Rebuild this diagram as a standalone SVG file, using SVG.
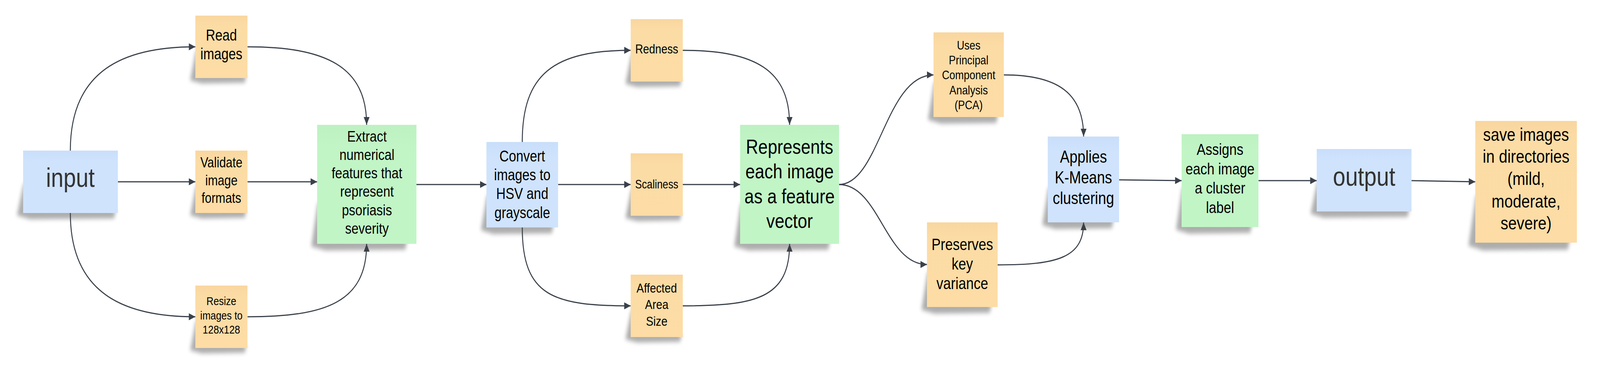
<svg xmlns="http://www.w3.org/2000/svg" width="4914" height="951" viewBox="0 0 4914 951" preserveAspectRatio="none" style="width:100vw;height:100vh;display:block">
<defs>
<style>
.orange{fill:url(#gO)}
.green{fill:url(#gG)}
.blue{fill:url(#gB)}
.sh{fill:#3c3c3c;opacity:.42;filter:url(#blur)}
.t{font-family:"Liberation Sans",Arial,sans-serif;fill:#000;text-anchor:middle}
.io{fill:#333}
.conn path{fill:none;stroke:#3a414a;stroke-width:3;marker-end:url(#arr)}
</style>
<linearGradient id="gO" x1="0" y1="0" x2="0" y2="1"><stop offset="0" stop-color="#f9d69f"/><stop offset=".18" stop-color="#fcdca5"/><stop offset="1" stop-color="#fddca5"/></linearGradient>
<linearGradient id="gG" x1="0" y1="0" x2="0" y2="1"><stop offset="0" stop-color="#bdf1c2"/><stop offset=".18" stop-color="#c1f5c6"/><stop offset="1" stop-color="#c1f5c6"/></linearGradient>
<linearGradient id="gB" x1="0" y1="0" x2="0" y2="1"><stop offset="0" stop-color="#c9defa"/><stop offset=".18" stop-color="#cfe3fd"/><stop offset="1" stop-color="#cfe3fd"/></linearGradient>
<filter id="blur" x="-30%" y="-30%" width="160%" height="160%"><feGaussianBlur stdDeviation="6"/></filter>
<marker id="arr" markerUnits="userSpaceOnUse" markerWidth="20" markerHeight="20" viewBox="0 0 20 20" refX="20" refY="10" orient="auto"><path d="M0 1 L20 10 L0 19 Z" fill="#3a414a"/></marker>
</defs>
<rect width="4914" height="951" fill="#fff"/>

<g class="conn" id="connectors">
<path d="M216 386 C216 180 380 120 600 120"/>
<path d="M362 466 L600 466"/>
<path d="M216 546 C216 752 380 812 600 812"/>
<path d="M760 120 C1000 120 1126 170 1126 320"/>
<path d="M760 466 L974 466"/>
<path d="M760 812 C1000 812 1126 775 1126 625"/>
<path d="M1279 473 L1494 473"/>
<path d="M1604 364 C1604 190 1700 129 1937 129"/>
<path d="M1714 473 L1937 473"/>
<path d="M1604 583 C1604 760 1700 784 1937 784"/>
<path d="M2097 129 C2320 129 2425 180 2425 320"/>
<path d="M2097 473 L2273 473"/>
<path d="M2097 784 C2320 784 2425 765 2425 625"/>
<path d="M2577 473 C2700 473 2720 192 2867 192"/>
<path d="M2577 473 C2700 473 2720 678 2847 678"/>
<path d="M3083 192 C3250 192 3328 240 3328 350"/>
<path d="M3064 679 C3250 679 3328 660 3328 570"/>
<path d="M3437 461 L3629 463"/>
<path d="M3865 463 L4044 463"/>
<path d="M4335 463 L4531 466"/>
</g>

<g id="input">
<path class="sh" d="M73 470 L52 552 L92 562 L350 560 L356 540 Z"/>
<rect class="blue" x="71" y="386" width="291" height="160"/>
<text class="t io" x="216" y="479" font-size="69">input</text>
</g>

<g id="read-images">
<path class="sh" d="M602 130 L584 206 L620 214 L752 212 L756 194 Z"/>
<rect class="orange" x="600" y="40" width="160" height="160"/>
<text class="t" font-size="40"><tspan x="680" y="104">Read</tspan><tspan x="680" y="152.5">images</tspan></text>
</g>

<g id="validate">
<path class="sh" d="M602 476 L584 552 L620 560 L752 558 L756 540 Z"/>
<rect class="orange" x="600" y="386" width="160" height="160"/>
<text class="t" font-size="36.5"><tspan x="680" y="429">Validate</tspan><tspan x="680" y="475">image</tspan><tspan x="680" y="520">formats</tspan></text>
</g>

<g id="resize">
<path class="sh" d="M602 822 L584 898 L620 906 L752 904 L756 886 Z"/>
<rect class="orange" x="600" y="732" width="160" height="160"/>
<text class="t" font-size="30"><tspan x="680" y="782">Resize</tspan><tspan x="680" y="819">images to</tspan><tspan x="680" y="855">128x128</tspan></text>
</g>

<g id="extract">
<path class="sh" d="M976 520 L956 632 L1000 642 L1245 640 L1250 615 Z"/>
<rect class="green" x="974" y="320" width="305" height="305"/>
<text class="t" font-size="39"><tspan x="1127" y="363">Extract</tspan><tspan x="1127" y="410">numerical</tspan><tspan x="1127" y="457">features that</tspan><tspan x="1127" y="504.5">represent</tspan><tspan x="1127" y="552">psoriasis</tspan><tspan x="1127" y="599">severity</tspan></text>
</g>

<g id="convert">
<path class="sh" d="M1496 500 L1477 590 L1515 600 L1695 598 L1700 575 Z"/>
<rect class="blue" x="1494" y="364" width="220" height="219"/>
<text class="t" font-size="40"><tspan x="1604" y="414">Convert</tspan><tspan x="1604" y="462">images to</tspan><tspan x="1604" y="510.5">HSV and</tspan><tspan x="1604" y="559">grayscale</tspan></text>
</g>

<g id="redness">
<path class="sh" d="M1939 139 L1921 215 L1957 223 L2089 221 L2093 203 Z"/>
<rect class="orange" x="1937" y="49" width="160" height="160"/>
<text class="t" x="2017" y="137" font-size="33.5">Redness</text>
</g>

<g id="scaliness">
<path class="sh" d="M1939 483 L1921 559 L1957 567 L2089 565 L2093 547 Z"/>
<rect class="orange" x="1937" y="393" width="160" height="160"/>
<text class="t" x="2017" y="483" font-size="31">Scaliness</text>
</g>

<g id="affected">
<path class="sh" d="M1939 794 L1921 870 L1957 878 L2089 876 L2093 858 Z"/>
<rect class="orange" x="1937" y="704" width="160" height="160"/>
<text class="t" font-size="34"><tspan x="2017" y="750">Affected</tspan><tspan x="2017" y="792.5">Area</tspan><tspan x="2017" y="835">Size</tspan></text>
</g>

<g id="represents">
<path class="sh" d="M2275 520 L2255 632 L2299 642 L2544 640 L2549 615 Z"/>
<rect class="green" x="2273" y="320" width="304" height="305"/>
<text class="t" font-size="52.5"><tspan x="2425" y="394">Represents</tspan><tspan x="2425" y="457.5">each image</tspan><tspan x="2425" y="521">as a feature</tspan><tspan x="2425" y="584.5">vector</tspan></text>
</g>

<g id="pca">
<path class="sh" d="M2869 210 L2850 307 L2890 317 L3060 315 L3065 292 Z"/>
<rect class="orange" x="2867" y="83" width="216" height="217"/>
<text class="t" font-size="31.7"><tspan x="2975" y="127">Uses</tspan><tspan x="2975" y="165.5">Principal</tspan><tspan x="2975" y="203.5">Component</tspan><tspan x="2975" y="242">Analysis</tspan><tspan x="2975" y="280">(PCA)</tspan></text>
</g>

<g id="preserves">
<path class="sh" d="M2849 697 L2830 794 L2870 804 L3040 802 L3045 779 Z"/>
<rect class="orange" x="2847" y="570" width="217" height="217"/>
<text class="t" font-size="42"><tspan x="2955.5" y="641.5">Preserves</tspan><tspan x="2955.5" y="691">key</tspan><tspan x="2955.5" y="741.5">variance</tspan></text>
</g>

<g id="kmeans">
<path class="sh" d="M3220 480 L3201 577 L3241 587 L3415 585 L3420 562 Z"/>
<rect class="blue" x="3218" y="350" width="219" height="220"/>
<text class="t" font-size="44"><tspan x="3327.5" y="417">Applies</tspan><tspan x="3327.5" y="470.5">K-Means</tspan><tspan x="3327.5" y="523">clustering</tspan></text>
</g>

<g id="assigns">
<path class="sh" d="M3631 480 L3612 589 L3652 599 L3840 597 L3845 574 Z"/>
<rect class="green" x="3629" y="344" width="236" height="238"/>
<text class="t" font-size="41"><tspan x="3747" y="397">Assigns</tspan><tspan x="3747" y="447">each image</tspan><tspan x="3747" y="496">a cluster</tspan><tspan x="3747" y="546">label</tspan></text>
</g>

<g id="output">
<path class="sh" d="M4046 466 L4025 548 L4065 558 L4323 556 L4329 536 Z"/>
<rect class="blue" x="4044" y="382" width="291" height="160"/>
<text class="t io" x="4189.5" y="476" font-size="69">output</text>
</g>

<g id="save">
<path class="sh" d="M4533 500 L4510 630 L4555 642 L4815 640 L4822 612 Z"/>
<rect class="orange" x="4531" y="310" width="312" height="312"/>
<text class="t" font-size="47"><tspan x="4687" y="361">save images</tspan><tspan x="4687" y="417">in directories</tspan><tspan x="4687" y="474">(mild,</tspan><tspan x="4687" y="532">moderate,</tspan><tspan x="4687" y="588">severe)</tspan></text>
</g>
</svg>
